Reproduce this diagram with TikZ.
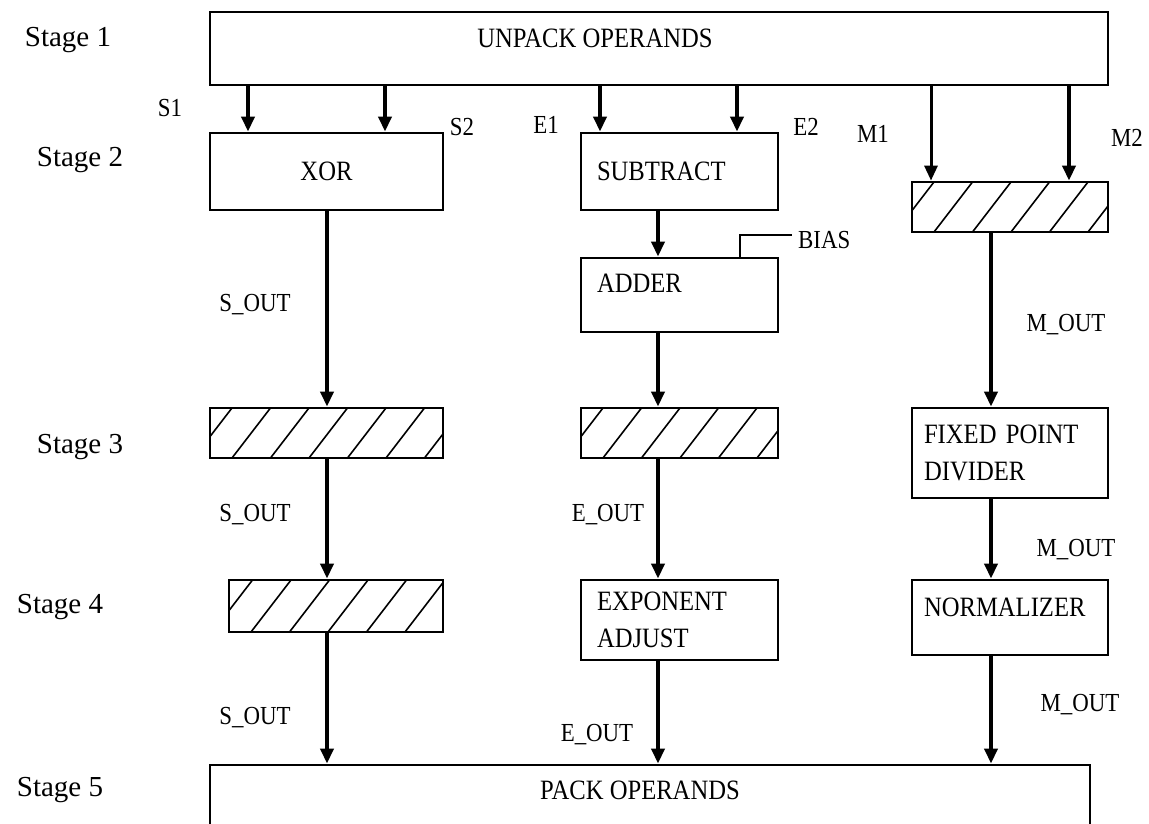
\documentclass[tikz,border=0pt]{standalone}
\usepackage{fontspec}
\setmainfont{Liberation Serif}
\newfontfamily\condfont{Liberation Serif}[FakeStretch=0.88]
\usetikzlibrary{arrows.meta}
\begin{document}
\begin{tikzpicture}[x=1pt,y=-1pt,
  box/.style={draw, line width=2.8pt, inner sep=0pt, font=\condfont\fontsize{28}{37}\selectfont},
  lbox/.style={box, align=left},
  hatch/.style={draw, line width=2.8pt, inner sep=0pt,
    path picture={\foreach \k in {-1,...,7}{\draw[line width=1.6pt]
      ([xshift=\k*38.5pt+22pt]path picture bounding box.south west) -- ++(40pt,52pt);}}},
  arr/.style={line width=3.6pt, -{Triangle[width=13pt,length=15pt]}},
  wire/.style={line width=2.4pt},
  lab/.style={inner sep=0pt, font=\condfont\fontsize{26}{30}\selectfont},
  stage/.style={inner sep=0pt, font=\fontsize{29}{32}\selectfont}
]
\clip (0,0) rectangle (1149,824);
\useasboundingbox (0,0) rectangle (1149,824);

% stage labels
\node[stage] (st1) at (68,40) {Stage 1};
\node[stage] (st2) at (80,160) {Stage 2};
\node[stage] (st3) at (80,447) {Stage 3};
\node[stage] (st4) at (60,607) {Stage 4};
\node[stage] (st5) at (60,790) {Stage 5};

% boxes
\node[box, minimum width=898pt, minimum height=73pt] (unpack) at (659,48.5) {};
\node[lab, font=\condfont\fontsize{28}{32}\selectfont] (unpacktxt) at (595,38) {UNPACK OPERANDS};
\node[box, minimum width=233pt, minimum height=77pt] (xor) at (326.5,171.5) {XOR};
\node[lbox, minimum width=197pt, minimum height=77pt, text width=165pt] (sub) at (679.5,171.5) {SUBTRACT};
\node[hatch, minimum width=196pt, minimum height=50pt] (mreg) at (1010,207) {};
\node[lbox, minimum width=197pt, minimum height=74pt, text width=165pt] (adder) at (679.5,295) {ADDER\\[-14pt]\mbox{}};
\node[hatch, minimum width=233pt, minimum height=50pt] (sreg3) at (326.5,433) {};
\node[hatch, minimum width=197pt, minimum height=50pt] (ereg3) at (679.5,433) {};
\node[lbox, minimum width=196pt, minimum height=90pt, text width=172pt] (div) at (1010,453) {FIXED POINT\\DIVIDER};
\node[hatch, minimum width=214pt, minimum height=52pt] (sreg4) at (336,606) {};
\node[lbox, minimum width=197pt, minimum height=80pt, text width=165pt] (expo) at (679.5,620) {EXPONENT\\ADJUST};
\node[lbox, minimum width=196pt, minimum height=75pt, text width=172pt] (norm) at (1010,617.5) {NORMALIZER\\[-16pt]\mbox{}};
\node[box, minimum width=880pt, minimum height=95pt] (pack) at (650,812.5) {};
\node[lab, font=\condfont\fontsize{28}{32}\selectfont] (packtxt) at (640,790) {PACK OPERANDS};

% column coordinates
\coordinate (xs1) at (248,0);
\coordinate (xs2) at (385,0);
\coordinate (xe1) at (600,0);
\coordinate (xe2) at (737,0);
\coordinate (xm1) at (931,0);
\coordinate (xm2) at (1069,0);
\coordinate (xs) at (327,0);
\coordinate (xe) at (658,0);
\coordinate (xm) at (991,0);

% stage 1 -> 2
\draw[arr] (unpack.south -| xs1) -- (xor.north -| xs1);
\draw[arr] (unpack.south -| xs2) -- (xor.north -| xs2);
\draw[arr] (unpack.south -| xe1) -- (sub.north -| xe1);
\draw[arr] (unpack.south -| xe2) -- (sub.north -| xe2);
\draw[arr, line width=3pt] (unpack.south -| xm1) -- (mreg.north -| xm1);
\draw[arr, line width=4.6pt] (unpack.south -| xm2) -- (mreg.north -| xm2);

% sign column
\draw[arr] (xor.south -| xs) -- (sreg3.north -| xs);
\draw[arr] (sreg3.south -| xs) -- (sreg4.north -| xs);
\draw[arr] (sreg4.south -| xs) -- (pack.north -| xs);

% exponent column
\draw[arr] (sub.south -| xe) -- (adder.north -| xe);
\draw[arr] (adder.south -| xe) -- (ereg3.north -| xe);
\draw[arr] (ereg3.south -| xe) -- (expo.north -| xe);
\draw[arr] (expo.south -| xe) -- (pack.north -| xe);

% mantissa column
\draw[arr] (mreg.south -| xm) -- (div.north -| xm);
\draw[arr] (div.south -| xm) -- (norm.north -| xm);
\draw[arr] (norm.south -| xm) -- (pack.north -| xm);

% bias input
\coordinate (b1) at (740,235);
\node[lab, anchor=west] (bias) at (798,240) {BIAS};
\draw[wire] (adder.north -| b1) -- (b1) -- ([xshift=-6pt]bias.west |- b1);

% signal labels
\node[lab] (ls1) at (170,108) {S1};
\node[lab] (ls2) at (462,127) {S2};
\node[lab] (le1) at (546,125) {E1};
\node[lab] (le2) at (806,127) {E2};
\node[lab] (lm1) at (873,134) {M1};
\node[lab] (lm2) at (1127,138) {M2};
\node[lab] (so1) at (255,305) {S\_OUT};
\node[lab] (so2) at (255,515) {S\_OUT};
\node[lab] (so3) at (255,718) {S\_OUT};
\node[lab] (eo1) at (608,515) {E\_OUT};
\node[lab] (eo2) at (597,735) {E\_OUT};
\node[lab] (mo1) at (1066,325) {M\_OUT};
\node[lab] (mo2) at (1076,550) {M\_OUT};
\node[lab] (mo3) at (1080,705) {M\_OUT};
\end{tikzpicture}
\end{document}
